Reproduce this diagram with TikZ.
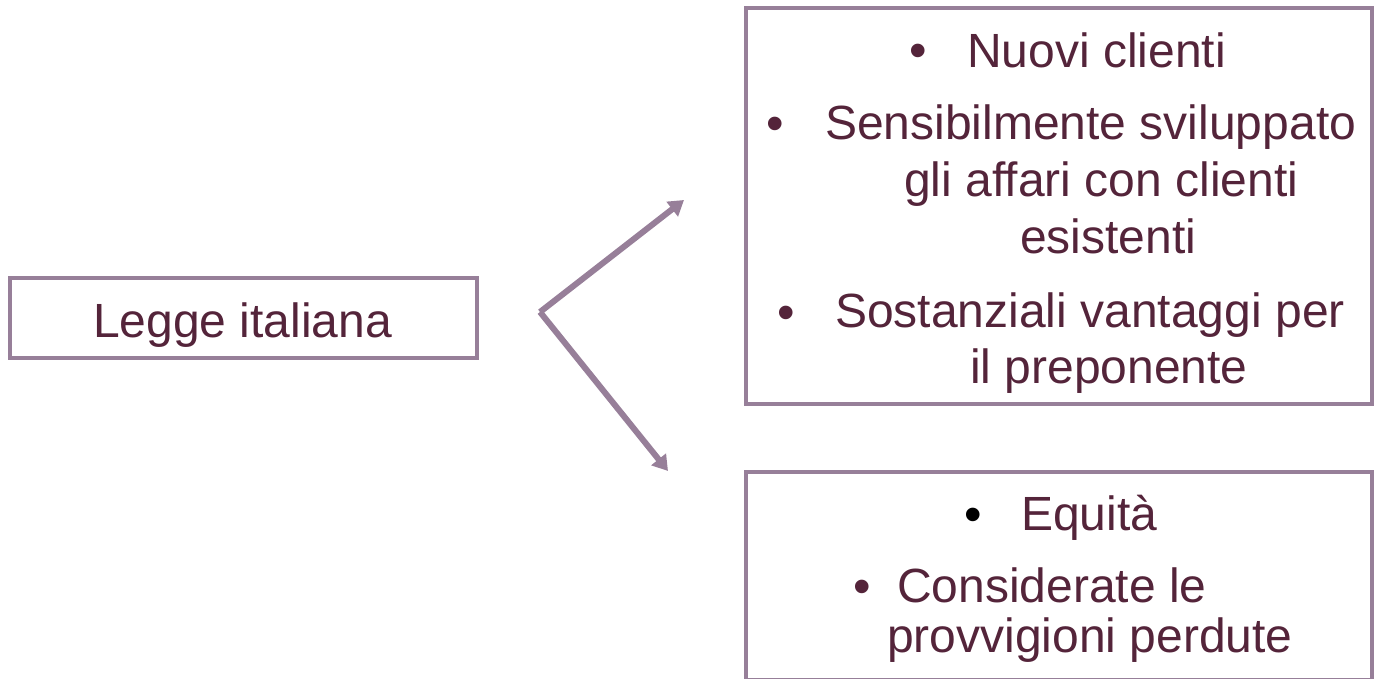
\documentclass[tikz,border=0pt]{standalone}
\usepackage{fontspec}
\setmainfont{Liberation Sans}
\usetikzlibrary{arrows.meta}
\definecolor{framec}{RGB}{151,127,153}
\definecolor{inkc}{RGB}{84,36,58}
\begin{document}
\begin{tikzpicture}[x=1pt,y=-1pt,
  frame/.style={draw=framec,line width=4pt,inner sep=0pt,fill=white},
  txt/.style={text=inkc,inner sep=0pt,font=\fontsize{48}{58}\selectfont,anchor=base west},
  dot/.style={text=inkc,inner sep=0pt,font=\fontsize{50}{58}\selectfont,anchor=base},
  link/.style={draw=framec,line width=6pt,-{Triangle[length=15pt,width=18pt]}}]
\useasboundingbox (0,0) rectangle (1376,678);
% boxes
\node[frame,minimum width=467pt,minimum height=80pt] (legge) at (243.5,318) {};
\node[frame,minimum width=626pt,minimum height=396pt] (top) at (1059,206) {};
\node[frame,minimum width=626pt,minimum height=208pt] (bottom) at (1059,576) {};
% left text
\node[txt] (leggetxt) at (93,337) {Legge italiana};
% top box text
\node[dot] (b1) at (918,67) {•};
\node[txt] (t1) at (967,67) {Nuovi clienti};
\node[dot] (b2) at (775,140) {•};
\node[txt] (t2) at (825,139) {Sensibilmente sviluppato};
\node[txt] (t3) at (904,196) {gli affari con clienti};
\node[txt] (t4) at (1020,253) {esistenti};
\node[dot] (b3) at (786,329) {•};
\node[txt] (t5) at (835,327) {Sostanziali vantaggi per};
\node[txt] (t6) at (970,383) {il preponente};
% bottom box text
\node[dot,text=black] (b4) at (973,531) {•};
\node[txt] (t7) at (1021,530) {Equità};
\node[dot] (b5) at (862,603) {•};
\node[txt] (t8) at (897,602) {Considerate le};
\node[txt] (t9) at (887,652) {provvigioni perdute};
% arrows
\coordinate (fork) at (540,312);
\coordinate (upend) at (684,200);
\coordinate (downend) at (668,471);
\draw[link] (fork) -- (upend);
\draw[link] (fork) -- (downend);
\end{tikzpicture}
\end{document}
